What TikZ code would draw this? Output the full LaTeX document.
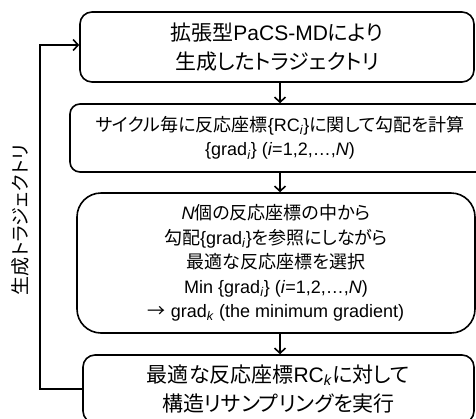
\documentclass[tikz,border=0pt]{standalone}
\usepackage{fontspec}
\setmainfont{Liberation Sans}
\newfontfamily\jp[RawFeature=+palt]{Noto Sans CJK JP}
\usetikzlibrary{arrows.meta}
\newcommand{\sbi}[1]{\textsubscript{\textit{#1}}}
\begin{document}
\begin{tikzpicture}[x=1pt,y=-1pt,
  box/.style={draw=black,line width=1.6pt,align=center,inner sep=0pt,anchor=center},
  big/.style={font=\fontsize{21}{29}\selectfont},
  small/.style={font=\fontsize{18}{24.5}\selectfont},
  conn/.style={line width=1.6pt,-{Straight Barb[length=5pt,width=11pt,line width=1.6pt]}}]
\useasboundingbox (0,0) rectangle (476,418);
\node[box,big,rounded corners=12pt,minimum width=394pt,minimum height=70pt] (b1) at (277,47)
  {{\jp 拡張型}PaCS-MD{\jp により}\\{\jp 生成したトラジェクトリ}};
\node[box,small,rounded corners=10pt,minimum width=420pt,minimum height=68pt] (b2) at (280,138)
  {{\jp サイクル毎に反応座標}\{RC\sbi{i}\}{\jp に関して勾配を計算}\\\{grad\sbi{i}\} (\textit{i}=1,2,…,\textit{N})};
\node[box,small,rounded corners=24pt,minimum width=398pt,minimum height=140pt] (b3) at (276,263)
  {\textit{N}{\jp 個の反応座標の中から}\\{\jp 勾配}\{grad\sbi{i}\}{\jp を参照にしながら}\\{\jp 最適な反応座標を選択}\\Min \{grad\sbi{i}\} (\textit{i}=1,2,…,\textit{N})\\{\jp →} grad\sbi{k} (the minimum gradient)};
\node[box,big,rounded corners=12pt,minimum width=391pt,minimum height=68pt] (b4) at (278.5,389)
  {{\jp 最適な反応座標}RC\sbi{k}{\jp に対して}\\{\jp 構造リサンプリングを実行}};
\node[rotate=90,font=\fontsize{19}{20}\jp] (lab) at (20,220) {生成トラジェクトリ};
\coordinate (c1) at (40,389);
\coordinate (c2) at (40,45);
\draw[conn] (b1.south -| 280,0) -- (b2.north -| 280,0);
\draw[conn] (b2.south -| 280,0) -- (b3.north -| 280,0);
\draw[conn] (b3.south -| 280,0) -- (b4.north -| 280,0);
\draw[conn] (b4.west) -- (c1) -- (c2) -- (c2 -| b1.west);
\end{tikzpicture}
\end{document}
